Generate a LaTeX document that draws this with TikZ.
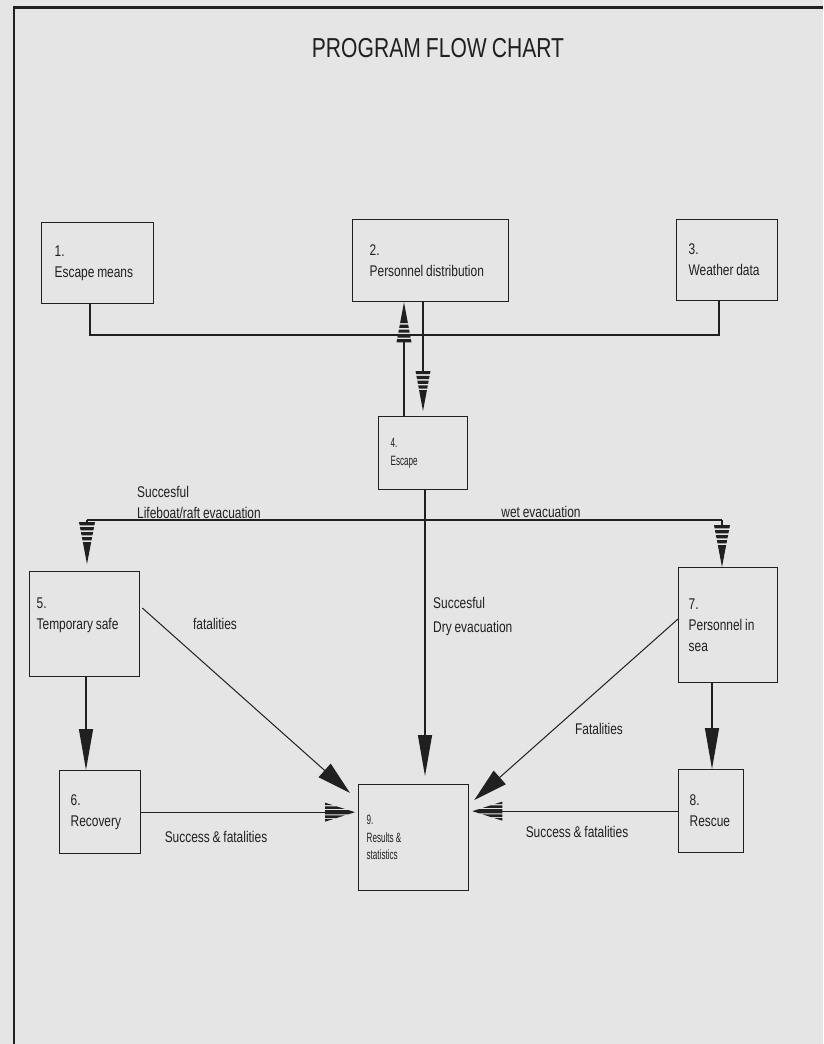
\documentclass[tikz,border=0pt]{standalone}
\usepackage{fontspec}
\setmainfont{Liberation Sans}[FakeStretch=0.77,WordSpace=0.85]
\newfontfamily\condf{Liberation Sans}[FakeStretch=0.6]
\usetikzlibrary{arrows.meta,calc}
\definecolor{ink}{RGB}{32,32,32}
\definecolor{paper}{RGB}{229,229,229}
\newcommand\fntA{\fontsize{15.5}{21}\selectfont}
\newcommand\fntB{\condf\fontsize{13.5}{17.5}\selectfont}
\newcommand\hatchband[2]{%
  \pgfpathmoveto{\pgfpoint{-#1*\pgfarrowlength}{0.5*#1*\pgfarrowwidth}}%
  \pgfpathlineto{\pgfpoint{-#2*\pgfarrowlength}{0.5*#2*\pgfarrowwidth}}%
  \pgfpathlineto{\pgfpoint{-#2*\pgfarrowlength}{-0.5*#2*\pgfarrowwidth}}%
  \pgfpathlineto{\pgfpoint{-#1*\pgfarrowlength}{-0.5*#1*\pgfarrowwidth}}%
  \pgfpathclose}
\newcommand\hstrip[2]{%
  \pgfpathmoveto{\pgfpoint{-#1*\pgfarrowlength}{0.5*#1*\pgfarrowwidth}}%
  \pgfpathlineto{\pgfpoint{-#2*\pgfarrowlength}{0.5*#2*\pgfarrowwidth}}%
  \pgfpathlineto{\pgfpoint{-\pgfarrowlength}{0.5*#2*\pgfarrowwidth}}%
  \pgfpathlineto{\pgfpoint{-\pgfarrowlength}{0.5*#1*\pgfarrowwidth}}%
  \pgfpathclose
  \pgfpathmoveto{\pgfpoint{-#1*\pgfarrowlength}{-0.5*#1*\pgfarrowwidth}}%
  \pgfpathlineto{\pgfpoint{-#2*\pgfarrowlength}{-0.5*#2*\pgfarrowwidth}}%
  \pgfpathlineto{\pgfpoint{-\pgfarrowlength}{-0.5*#2*\pgfarrowwidth}}%
  \pgfpathlineto{\pgfpoint{-\pgfarrowlength}{-0.5*#1*\pgfarrowwidth}}%
  \pgfpathclose}
% arrow with stripes across its axis
\pgfdeclarearrow{
  name = Hatch,
  parameters = {\the\pgfarrowlength,\the\pgfarrowwidth},
  setup code = {
    \pgfarrowssettipend{0pt}
    \pgfarrowssetbackend{-\pgfarrowlength}
    \pgfarrowssetlineend{-0.95\pgfarrowlength}
    \pgfarrowshullpoint{0pt}{0pt}
    \pgfarrowsupperhullpoint{-\pgfarrowlength}{.5\pgfarrowwidth}
    \pgfarrowssavethe\pgfarrowlength
    \pgfarrowssavethe\pgfarrowwidth
  },
  drawing code = {
    \hatchband{0}{0.52}
    \hatchband{0.56}{0.64}
    \hatchband{0.68}{0.76}
    \hatchband{0.80}{0.88}
    \hatchband{0.92}{1}
    \pgfusepathqfill
  },
  defaults = {length = 40pt, width = 14pt}
}
% arrow with stripes along its axis
\pgfdeclarearrow{
  name = HatchH,
  parameters = {\the\pgfarrowlength,\the\pgfarrowwidth},
  setup code = {
    \pgfarrowssettipend{0pt}
    \pgfarrowssetbackend{-\pgfarrowlength}
    \pgfarrowssetlineend{-0.95\pgfarrowlength}
    \pgfarrowshullpoint{0pt}{0pt}
    \pgfarrowsupperhullpoint{-\pgfarrowlength}{.5\pgfarrowwidth}
    \pgfarrowssavethe\pgfarrowlength
    \pgfarrowssavethe\pgfarrowwidth
  },
  drawing code = {
    \pgfpathmoveto{\pgfpointorigin}
    \pgfpathlineto{\pgfpoint{-0.22*\pgfarrowlength}{0.11*\pgfarrowwidth}}
    \pgfpathlineto{\pgfpoint{-\pgfarrowlength}{0.11*\pgfarrowwidth}}
    \pgfpathlineto{\pgfpoint{-\pgfarrowlength}{-0.11*\pgfarrowwidth}}
    \pgfpathlineto{\pgfpoint{-0.22*\pgfarrowlength}{-0.11*\pgfarrowwidth}}
    \pgfpathclose
    \hstrip{0.34}{0.62}
    \hstrip{0.74}{1}
    \pgfusepathqfill
  },
  defaults = {length = 30pt, width = 18pt}
}
\tikzset{
  box/.style={draw=ink, line width=1.3pt, align=flush left, inner ysep=0pt,
    anchor=north west, text=ink, font=\fntA},
  smallbox/.style={box, font=\fntB},
  conn/.style={draw=ink, line width=1.3pt},
  thinconn/.style={draw=ink, line width=1pt},
  lbl/.style={text=ink, font=\fntA, inner sep=0pt},
  hatchtip/.style={-{Hatch[length=40pt,width=15pt]}},
  widehatch/.style={-{Hatch[length=42pt,width=16pt]}},
  shorthatch/.style={-{HatchH[length=30pt,width=19pt]}},
  soltip/.style={-{Triangle[length=41pt,width=14pt]}},
  diagtip/.style={-{Triangle[length=34pt,width=18pt]}},
}
\begin{document}
\begin{tikzpicture}[x=1pt,y=-1pt]
\useasboundingbox (0,0) rectangle (823,1044);
\fill[paper] (0,0) rectangle (823,1044);
% frame
\draw[ink, line width=2.2pt] (823,7.5) -- (14,7.5) -- (14,1044);
% title
\node[lbl, font=\fontsize{27.4}{30}\selectfont] (title) at (438,48) {PROGRAM FLOW CHART};
% boxes
\node[box, text width=86pt, inner xsep=13pt, minimum height=81pt] (n1) at (41,222) {1.\\\mbox{Escape means}};
\node[box, text width=122pt, inner xsep=17pt, minimum height=82pt] (n2) at (352,219) {2.\\\mbox{Personnel distribution}};
\node[box, text width=77pt, inner xsep=12pt, minimum height=81pt] (n3) at (676,219) {3.\\\mbox{Weather data}};
\node[smallbox, text width=65pt, inner xsep=12pt, minimum height=73pt] (n4) at (378,416) {4.\\Escape};
\node[box, text width=96pt, inner xsep=7pt, minimum height=105pt] (n5) at (29,571) {5.\\\mbox{Temporary safe}\\\mbox{}};
\node[box, text width=59pt, inner xsep=11pt, minimum height=83pt] (n6) at (59,770) {6.\\Recovery};
\node[box, text width=79pt, inner xsep=10pt, minimum height=115pt] (n7) at (678,567) {7.\\\mbox{Personnel in}\\sea};
\node[box, text width=43pt, inner xsep=11pt, minimum height=83pt] (n8) at (678,769) {8.\\Rescue};
\node[smallbox, text width=94pt, inner xsep=8pt, minimum height=106pt] (n9) at (358,784) {9.\\\mbox{Results \&}\\statistics};
% helper coordinates
\coordinate (xa) at (404,0);
\coordinate (xb) at (423,0);
\coordinate (xc) at (425,0);
\coordinate (xd) at (86,0);
\coordinate (xe) at (712,0);
\coordinate (j1) at (90,335);
\coordinate (j3) at (719,335);
\coordinate (b5) at (87,520);
\coordinate (b7) at (722,520);
% connectors
\draw[conn] (n1.south -| j1) -- (j1) -- (j3) -- (n3.south -| j3);
\draw[conn, hatchtip] (n4.north -| xa) -- (n2.south -| xa);
\draw[conn, hatchtip, shorten >=5pt] (n2.south -| xb) -- (n4.north -| xb);
\draw[conn, soltip, shorten >=8pt] (n4.south -| xc) -- (n9.north -| xc);
\draw[conn] (b5) -- (b7);
\draw[conn, widehatch, shorten >=7pt] (b5) -- (n5.north -| b5);
\draw[conn, widehatch] (b7) -- (n7.north -| b7);
\draw[conn, soltip] (n5.south -| xd) -- (n6.north -| xd);
\draw[conn, soltip] (n7.south -| xe) -- (n8.north -| xe);
\draw[thinconn, diagtip] ($(n5.north east)+(2,37)$) -- ($(n9.north west)+(-8,9)$);
\draw[thinconn, diagtip] ($(n7.north west)+(0,52)$) -- ($(n9.north east)+(5,16)$);
\draw[conn, shorthatch, shorten >=3pt] (n6.east) -- (n6.east -| n9.west);
\draw[conn, shorthatch, shorten >=3pt] (n8.west) -- (n8.west -| n9.east);
% labels
\node[lbl, align=left, anchor=west] (t1) at (137,502.5) {Succesful\\Lifeboat/raft evacuation};
\node[lbl] (t2) at (541,512) {wet evacuation};
\node[lbl, align=left, anchor=west, font=\fontsize{15.5}{24}\selectfont] (t3) at (433,616) {Succesful\\Dry evacuation};
\node[lbl] (t4) at (215,624) {fatalities};
\node[lbl] (t5) at (599,729) {Fatalities};
\node[lbl] (t6) at (216,837) {Success \& fatalities};
\node[lbl] (t7) at (577,832) {Success \& fatalities};
\end{tikzpicture}
\end{document}
